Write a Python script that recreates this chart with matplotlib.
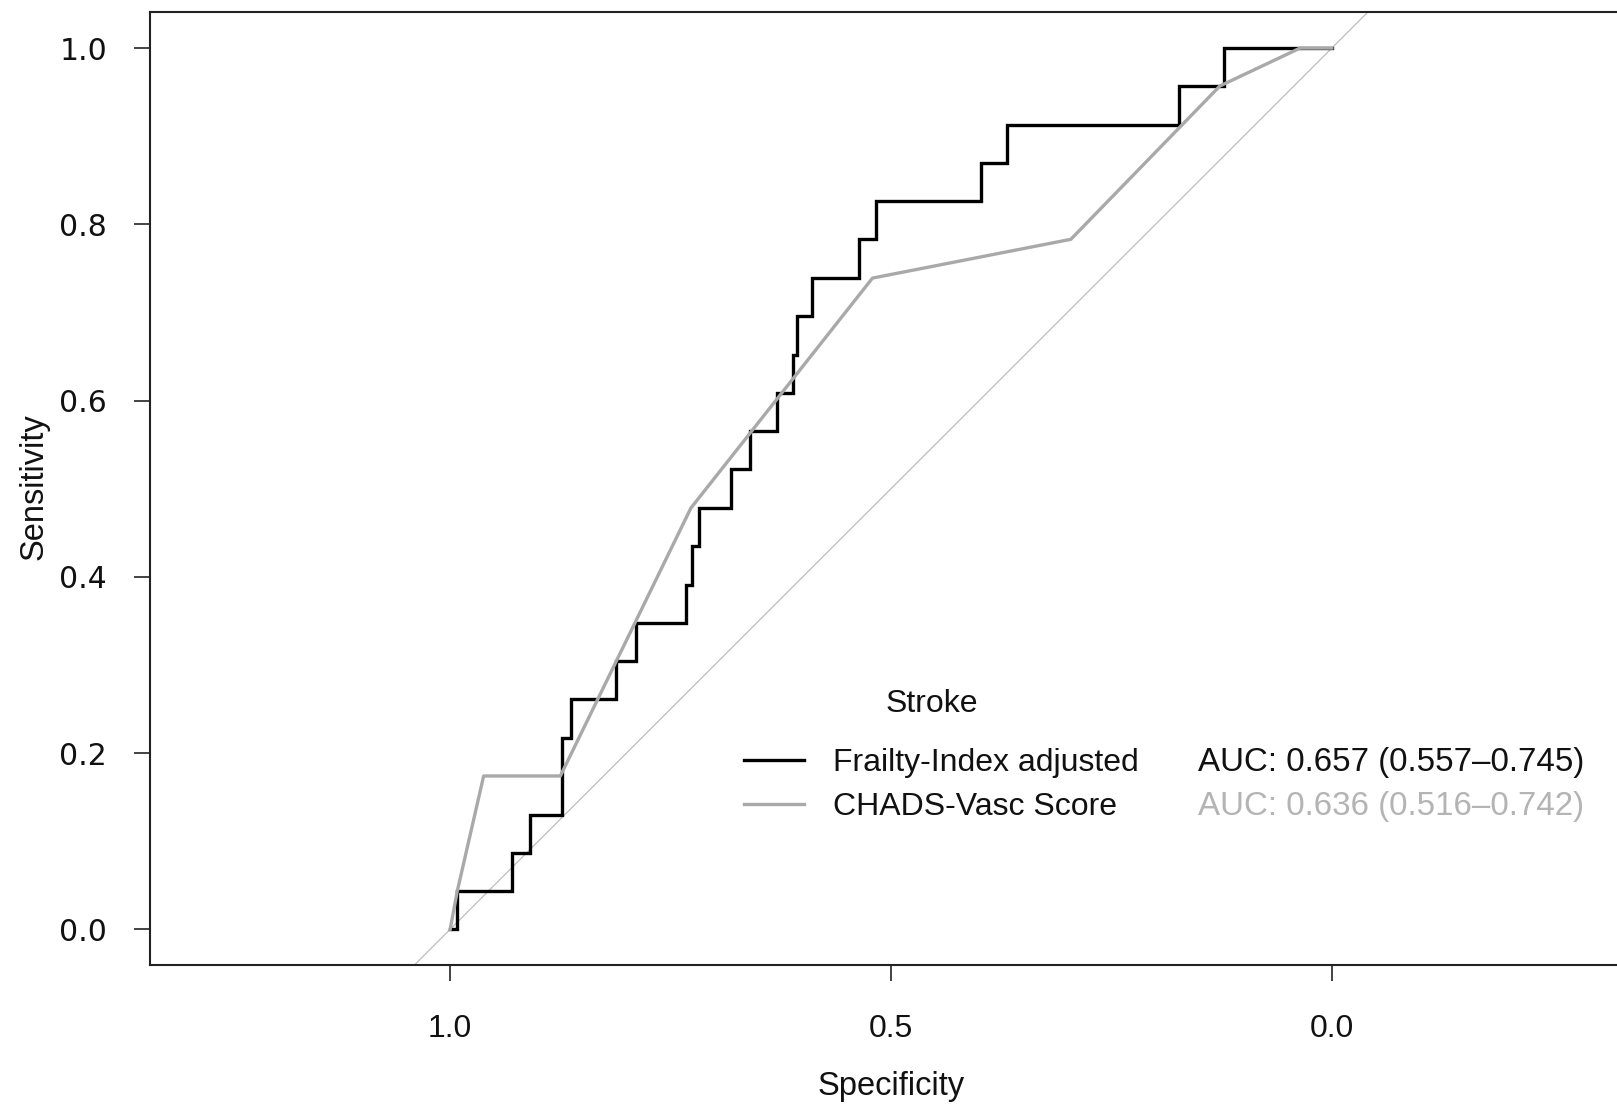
import matplotlib
matplotlib.use("Agg")
import matplotlib.pyplot as plt
from matplotlib.lines import Line2D

# ---- data (ROC coordinates) ----
frailty_spec = [1.000, 0.9925, 0.9925, 0.930, 0.930, 0.909, 0.909, 0.873, 0.873, 0.863, 0.863,
                0.812, 0.812, 0.789, 0.789, 0.733, 0.733, 0.726, 0.726, 0.718, 0.718, 0.682,
                0.682, 0.660, 0.660, 0.629, 0.629, 0.611, 0.611, 0.607, 0.607, 0.590, 0.590,
                0.536, 0.536, 0.517, 0.517, 0.398, 0.398, 0.369, 0.369, 0.173, 0.173, 0.122,
                0.122, 0.000]
frailty_sens = [0.000, 0.000, 0.043, 0.043, 0.087, 0.087, 0.130, 0.130, 0.217, 0.217, 0.261,
                0.261, 0.304, 0.304, 0.348, 0.348, 0.391, 0.391, 0.435, 0.435, 0.478, 0.478,
                0.522, 0.522, 0.565, 0.565, 0.609, 0.609, 0.652, 0.652, 0.696, 0.696, 0.739,
                0.739, 0.783, 0.783, 0.826, 0.826, 0.870, 0.870, 0.913, 0.913, 0.957, 0.957,
                1.000, 1.000]

chads_spec = [1.000, 0.992, 0.962, 0.875, 0.727, 0.521, 0.296, 0.127, 0.036, 0.000]
chads_sens = [0.000, 0.043, 0.174, 0.174, 0.478, 0.739, 0.783, 0.957, 1.000, 1.000]

series_names = ["Frailty-Index adjusted", "CHADS-Vasc Score"]
auc_labels = ["AUC: 0.657 (0.557\u20130.745)", "AUC: 0.636 (0.516\u20130.742)"]
legend_title = "Stroke"
x_ticks = [1.0, 0.5, 0.0]
x_ticklabels = ["1.0", "0.5", "0.0"]
y_ticks = [0.0, 0.2, 0.4, 0.6, 0.8, 1.0]
y_ticklabels = ["0.0", "0.2", "0.4", "0.6", "0.8", "1.0"]

# ---- styling ----
plt.rcParams["font.family"] = ["Liberation Sans", "DejaVu Sans"]

W, H = 1617, 1106
fig = plt.figure(figsize=(W / 100, H / 100), dpi=100)
fig.patch.set_facecolor("white")

left_px, right_px, top_px, bottom_px = 149.5, 1632.5, 12.4, 965.0
ax = fig.add_axes([left_px / W, 1 - bottom_px / H, (right_px - left_px) / W, (bottom_px - top_px) / H])

black = "#000000"
gray = "#A9A9A9"
diag_gray = "#BDBDBD"

ax.axline((1, 0), (0, 1), color=diag_gray, lw=0.9, zorder=1)
ax.plot(frailty_spec, frailty_sens, color=black, lw=2.4, solid_joinstyle="miter", zorder=2)
ax.plot(chads_spec, chads_sens, color=gray, lw=2.4, zorder=3)

ax.set_xlim(1.341, -0.341)
ax.set_ylim(-0.0405, 1.0405)

ax.set_xticks(x_ticks)
ax.set_xticklabels(x_ticklabels, family=["Liberation Sans", "DejaVu Sans"], color="#111111")
ax.set_yticks(y_ticks)
ax.set_yticklabels(y_ticklabels, family=["DejaVu Sans"], color="#222222")
ax.tick_params(axis="x", length=11.5, width=1.1, pad=24, colors="#111111", labelsize=23)
ax.tick_params(axis="y", length=11.5, width=1.1, pad=19, colors="#111111", labelsize=21.5)

for s in ["top", "left", "bottom"]:
    ax.spines[s].set_linewidth(1.5)
    ax.spines[s].set_color("#222222")
ax.spines["right"].set_visible(False)

# axis titles
fig.text(891 / W, 1 - 1086 / H, "Specificity", ha="center", va="center", fontsize=23.5, color="#111111")
fig.text(34 / W, 1 - 487 / H, "Sensitivity", ha="center", va="center", rotation=90, fontsize=23.5, color="#111111")

# legend (manual, R-style)
fig.text(932 / W, 1 - 704 / H, legend_title, ha="center", va="center", fontsize=23, color="#111111")
row_y = [763, 807]
line_y = [760, 804]
line_colors = [black, gray]
auc_colors = ["#111111", "#B4B4B4"]
for i in range(2):
    yy = 1 - row_y[i] / H
    ly = 1 - line_y[i] / H
    fig.add_artist(Line2D([744 / W, 804 / W], [ly, ly], color=line_colors[i], lw=2.4,
                          transform=fig.transFigure))
    fig.text(833 / W, yy, series_names[i], ha="left", va="center", fontsize=23, color="#111111")
    fig.text(1198 / W, yy, auc_labels[i], ha="left", va="center", fontsize=23.9, color=auc_colors[i])

fig.savefig("out.png", dpi=100, facecolor="white")
